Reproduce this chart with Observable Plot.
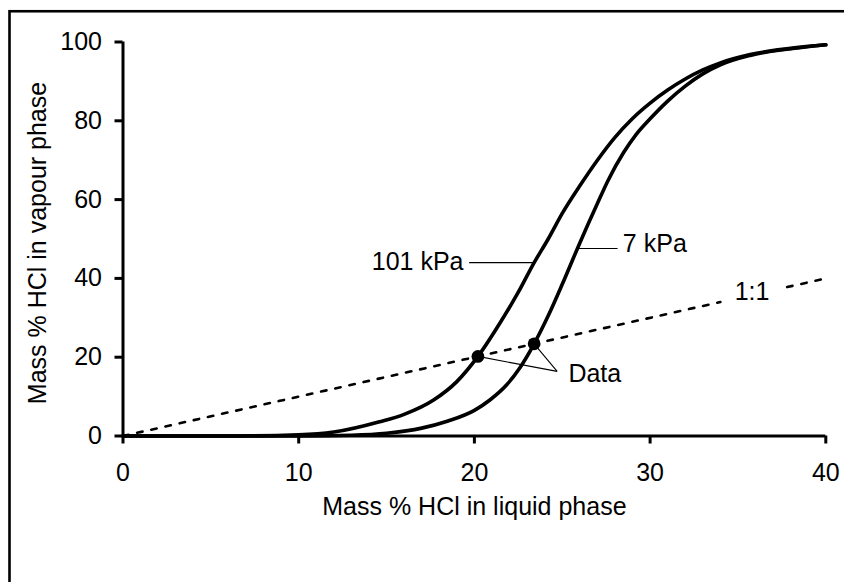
<!DOCTYPE html>
<html>
<head>
<meta charset="utf-8">
<script src="https://cdn.jsdelivr.net/npm/d3@7"></script>
<script src="https://cdn.jsdelivr.net/npm/@observablehq/plot@0.6"></script>
<style>
  html, body { margin: 0; padding: 0; background: #fff; overflow: hidden; }
  #chart { width: 844px; height: 582px; }
</style>
</head>
<body>
<div id="chart"></div>
<script>
// ---- Data ----
const xTicks = [0, 10, 20, 30, 40];
const yTicks = [0, 20, 40, 60, 80, 100];

// 101 kPa equilibrium curve (mass % HCl liquid vs vapour)
const x101 = [0, 6, 10, 12, 14.6, 16, 17.7, 19, 20.2, 21.5, 22.5, 23.4, 24.2, 25, 26, 27, 28, 29, 30, 31, 32, 33, 34, 35.7, 38.6, 40];
const y101 = [0, 0, 0.3, 1, 3.6, 5.5, 9.2, 13.8, 20.2, 29, 36.5, 44, 50, 56.5, 63.5, 70, 75.8, 80.6, 84.5, 87.8, 90.6, 92.9, 94.7, 96.8, 98.7, 99.3];

// 7 kPa equilibrium curve
const x7 = [0, 10, 13, 15, 17, 18.5, 20, 20.9, 21.8, 22.6, 23.4, 24.2, 25, 26, 27, 27.6, 28.5, 29.2, 30, 31, 32, 33, 34, 35.7, 38.6, 40];
const y7 = [0, 0, 0.2, 0.7, 2, 3.8, 6.5, 9.2, 12.8, 17.4, 23.4, 30.5, 38.5, 49, 59, 64.8, 72, 76.5, 80.5, 85, 88.8, 91.9, 94.2, 96.6, 98.6, 99.3];

// 1:1 line segments (interrupted by its label)
const diagSeg1 = [0, 34];
const diagSeg2 = [37.8, 40];

// Azeotrope data points
const dataX = [20.2, 23.4];
const dataY = [20.2, 23.4];

// Annotation labels
const labelText = ["101 kPa", "7 kPa", "Data", "1:1"];
const labelX = [19.38, 28.45, 25.35, 35.8];
const labelY = [44, 47.6, 16.0, 36.5];
const labelAnchor = ["end", "start", "start", "middle"];
const labelDy = [-1, -4, 1, 0];

// Leader lines [x1, y1, x2, y2]
const leaderX1 = [19.7, 25.86, 20.2, 23.4];
const leaderY1 = [44, 47.6, 20.2, 23.4];
const leaderX2 = [23.4, 28.15, 24.71, 24.71];
const leaderY2 = [44, 47.6, 16.4, 16.4];

const xTitle = "Mass % HCl in liquid phase";
const yTitle = "Mass % HCl in vapour phase";

// ---- Build tables ----
const curves = [
  ...x101.map((x, i) => ({x, y: y101[i], s: "101 kPa"})),
  ...x7.map((x, i) => ({x, y: y7[i], s: "7 kPa"}))
];
const diag = [
  ...diagSeg1.map(v => ({x: v, y: v, s: 1})),
  ...diagSeg2.map(v => ({x: v, y: v, s: 2}))
];
const points = dataX.map((x, i) => ({x, y: dataY[i]}));
const labels = labelText.map((t, i) => ({t, x: labelX[i], y: labelY[i], a: labelAnchor[i], dy: labelDy[i]}));
const leaders = leaderX1.map((x1, i) => ({x1, y1: leaderY1[i], x2: leaderX2[i], y2: leaderY2[i]}));

const FONT = "'Liberation Sans', Arial, Helvetica, sans-serif";
const FS = 25;

const marks = [
  Plot.line(diag, {x: "x", y: "y", z: "s", stroke: "black", strokeWidth: 2.6, strokeDasharray: "5.5,9"}),
  Plot.line(curves, {x: "x", y: "y", z: "s", stroke: "black", strokeWidth: 3.6, curve: "monotone-x"}),
  Plot.link(leaders, {x1: "x1", y1: "y1", x2: "x2", y2: "y2", stroke: "black", strokeWidth: 1.1}),
  Plot.dot(points, {x: "x", y: "y", r: 6.4, fill: "black", stroke: "none"}),
  ...labels.map(l => Plot.text([l], {x: "x", y: "y", text: "t", textAnchor: l.a, dy: l.dy, fontSize: FS, fill: "black"})),
  Plot.ruleX([0], {stroke: "black", strokeWidth: 3}),
  Plot.ruleY([0], {stroke: "black", strokeWidth: 3}),
  Plot.axisX({ticks: xTicks, tickSize: 8, tickPadding: 19.5, strokeWidth: 3, fontSize: FS, label: null, tickFormat: d => String(d)}),
  Plot.axisY({ticks: yTicks, tickSize: 8, tickPadding: 13, strokeWidth: 3, fontSize: FS, label: null, tickFormat: d => String(d)}),
  Plot.text([xTitle], {frameAnchor: "bottom", text: d => d, textAnchor: "middle", dy: 78.5, fontSize: FS, fill: "black"}),
  Plot.text([yTitle], {frameAnchor: "left", text: d => d, textAnchor: "middle", rotate: -90, dx: -84.7, dy: 4, fontSize: FS, fill: "black"})
];

const svg = Plot.plot({
  width: 844,
  height: 582,
  marginLeft: 122.5,
  marginRight: 18.7,
  marginTop: 41.5,
  marginBottom: 146.5,
  x: {domain: [0, 40]},
  y: {domain: [0, 100]},
  style: {fontFamily: FONT, fontSize: "25px", background: "white", color: "black", overflow: "hidden"},
  marks
});

// outer frame (top and left edges visible; right/bottom run off the picture)
d3.select(svg).append("rect")
  .attr("x", 9.5).attr("y", 11.25)
  .attr("width", 1000).attr("height", 1000)
  .attr("fill", "none").attr("stroke", "black").attr("stroke-width", 2.6);

document.getElementById("chart").appendChild(svg);
</script>
</body>
</html>
